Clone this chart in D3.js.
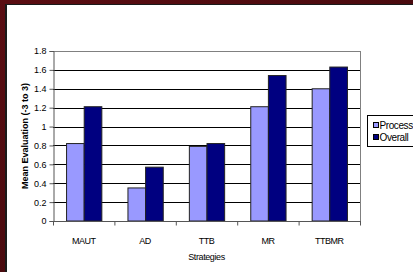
<!DOCTYPE html>
<html>
<head>
<meta charset="utf-8">
<script src="https://cdn.jsdelivr.net/npm/d3@7"></script>
<style>
  html, body { margin: 0; padding: 0; background: #4a0c10; overflow: hidden; }
  svg { display: block; font-family: Arial, "Liberation Sans", sans-serif; }
</style>
</head>
<body>
<div id="chart"></div>
<script>
const strategies = ['MAUT', 'AD', 'TTB', 'MR', 'TTBMR'];
const seriesNames = ['Process', 'Overall'];
const processVals = [0.82, 0.35, 0.79, 1.21, 1.40];
const overallVals = [1.21, 0.57, 0.82, 1.54, 1.63];
const yTicks = [0, 0.2, 0.4, 0.6, 0.8, 1, 1.2, 1.4, 1.6, 1.8];
const colors = ['#9999ff', '#000080'];

const width = 413, height = 272;
const svg = d3.select('#chart').append('svg').attr('width', width).attr('height', height);

// dark red backdrop and white slide panel
const grad = svg.append('defs').append('linearGradient').attr('id', 'bg').attr('x1', 0).attr('y1', 0).attr('x2', 1).attr('y2', 1);
grad.append('stop').attr('offset', '0%').attr('stop-color', '#5a0d12');
grad.append('stop').attr('offset', '100%').attr('stop-color', '#3a080b');
svg.append('rect').attr('width', width).attr('height', height).attr('fill', 'url(#bg)');
svg.append('rect').attr('x', 5).attr('y', 4).attr('width', width).attr('height', height).attr('fill', '#1a1a1a');
svg.append('rect').attr('x', 7).attr('y', 5).attr('width', width).attr('height', height).attr('fill', '#fff');

const m = { left: 53, right: 360, top: 51, bottom: 221 };
const x = d3.scaleBand().domain(strategies).range([m.left, m.right]);
const xs = d3.scaleBand().domain(seriesNames).range([0, x.bandwidth()]).paddingInner(0).paddingOuter(0.74);
const y = d3.scaleLinear().domain([0, 1.8]).range([m.bottom, m.top]);

// gridlines
svg.append('g').selectAll('line').data(yTicks.slice(1)).enter().append('line')
  .attr('x1', m.left).attr('x2', m.right)
  .attr('y1', d => Math.round(y(d)) + 0.5).attr('y2', d => Math.round(y(d)) + 0.5)
  .attr('stroke', d => d === 1.8 ? '#808080' : '#000').attr('stroke-width', 1);
svg.append('line').attr('x1', m.right + 0.5).attr('x2', m.right + 0.5)
  .attr('y1', m.top).attr('y2', m.bottom).attr('stroke', '#808080');

// bars
const rows = strategies.map((s, i) => ({ s, vals: [processVals[i], overallVals[i]] }));
svg.append('g').selectAll('g').data(rows).enter().append('g')
  .attr('transform', d => `translate(${x(d.s)},0)`)
  .selectAll('rect').data(d => d.vals.map((v, j) => ({ name: seriesNames[j], v, j }))).enter().append('rect')
  .attr('x', d => xs(d.name) + 0.5)
  .attr('width', xs.bandwidth())
  .attr('y', d => y(d.v))
  .attr('height', d => y(0) - y(d.v))
  .attr('fill', d => colors[d.j])
  .attr('stroke', '#222').attr('stroke-width', 1);

// y axis
const yAxis = svg.append('g').attr('transform', `translate(${m.left + 0.5},0)`)
  .call(d3.axisLeft(y).tickValues(yTicks).tickSize(4).tickPadding(3).tickFormat(d3.format('')));
yAxis.select('.domain').attr('stroke', '#555');
yAxis.selectAll('.tick line').attr('stroke', '#555');
yAxis.selectAll('.tick text').attr('font-size', 9).attr('font-family', 'Arial, "Liberation Sans", sans-serif').attr('fill', '#000');

// x axis with ticks between categories
const xAxis = svg.append('g').attr('transform', `translate(0,${m.bottom + 0.5})`);
xAxis.append('line').attr('x1', m.left).attr('x2', m.right + 1).attr('stroke', '#555');
xAxis.selectAll('line.tk').data(d3.range(strategies.length + 1)).enter().append('line').attr('class', 'tk')
  .attr('x1', i => m.left + i * x.step() + 0.5).attr('x2', i => m.left + i * x.step() + 0.5)
  .attr('y1', 0).attr('y2', 4).attr('stroke', '#555');
xAxis.selectAll('text').data(strategies).enter().append('text')
  .attr('x', d => x(d) + x.bandwidth() / 2).attr('y', 22)
  .attr('text-anchor', 'middle').attr('font-size', 9).attr('letter-spacing', -0.5)
  .text(d => d);

// axis titles
svg.append('text').attr('x', (m.left + m.right) / 2).attr('y', 260)
  .attr('text-anchor', 'middle').attr('font-size', 9).attr('letter-spacing', -0.4).text('Strategies');
svg.append('text').attr('transform', `translate(28,${(m.top + m.bottom) / 2}) rotate(-90)`)
  .attr('text-anchor', 'middle').attr('font-size', 9).attr('font-weight', 'bold').text('Mean Evaluation (-3 to 3)');

// legend (runs off the right edge like the original)
const lg = svg.append('g').attr('transform', 'translate(367,115)');
lg.append('rect').attr('x', 0.5).attr('y', 0.5).attr('width', 70).attr('height', 31).attr('fill', '#fff').attr('stroke', '#000');
seriesNames.forEach((n, i) => {
  lg.append('rect').attr('x', 6.5).attr('y', 7.5 + i * 12).attr('width', 5).attr('height', 5)
    .attr('fill', colors[i]).attr('stroke', '#000');
  lg.append('text').attr('x', 12.5).attr('y', 13.5 + i * 12).attr('font-size', 10).attr('letter-spacing', -0.4).text(n);
});
</script>
</body>
</html>
